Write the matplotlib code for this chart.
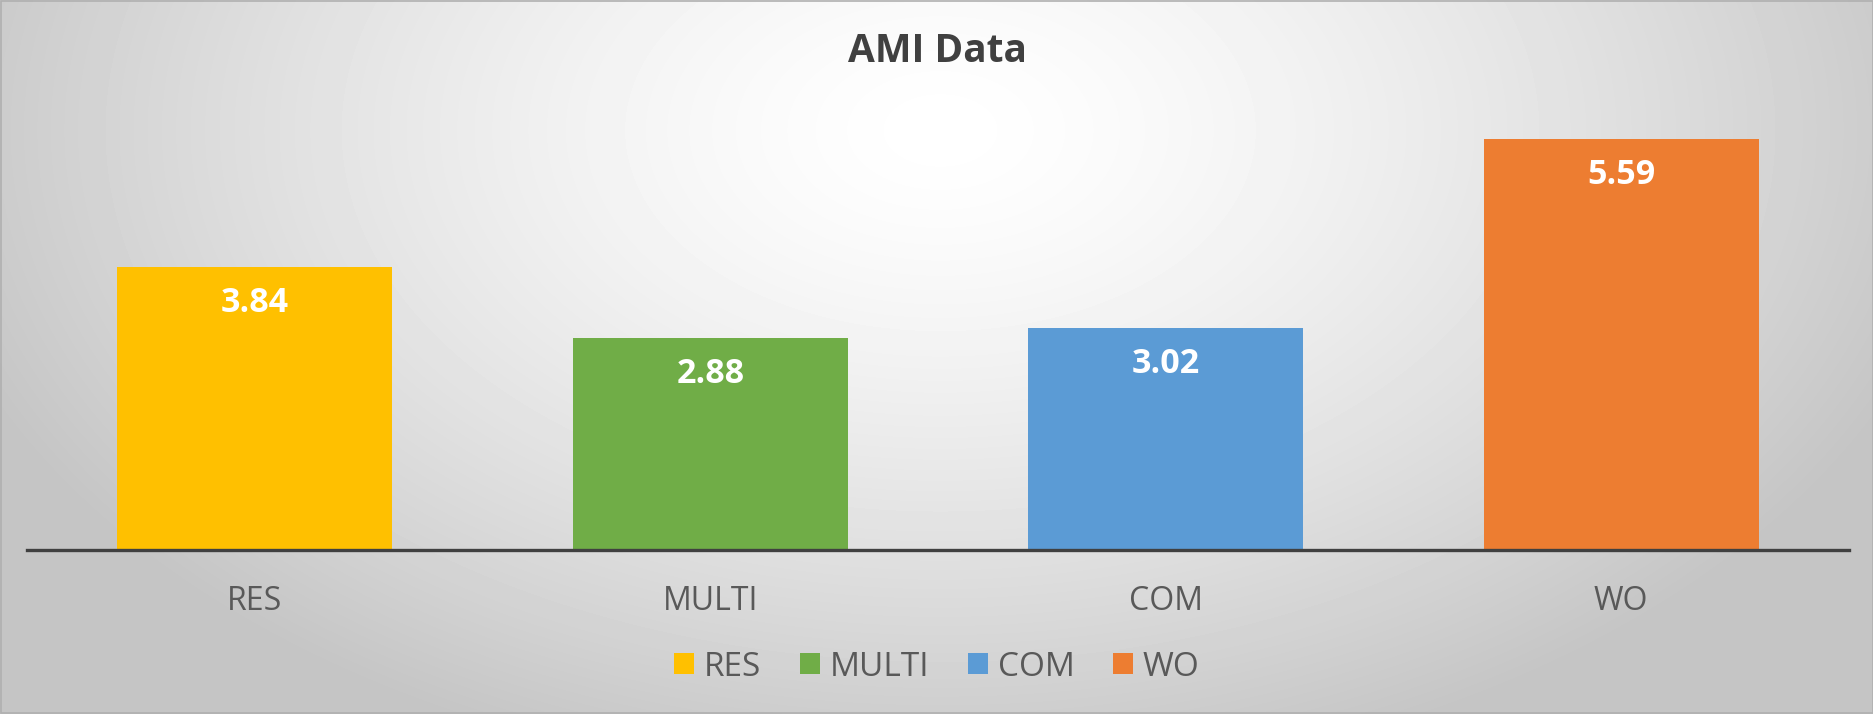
import numpy as np
import matplotlib.pyplot as plt
from matplotlib.patches import Patch

plt.rcParams['font.family'] = ['Open Sans', 'DejaVu Sans']

categories = ['RES', 'MULTI', 'COM', 'WO']
values = [3.84, 2.88, 3.02, 5.59]
colors = ['#FFC000', '#70AD47', '#5B9BD5', '#ED7D31']

fig = plt.figure(figsize=(18.74, 7.14), dpi=100)

# radial gradient background, light near top centre
bg = fig.add_axes([0, 0, 1, 1], zorder=-10)
yy, xx = np.mgrid[0:714, 0:1874]
r = np.sqrt(((xx - 940) / 1100.0) ** 2 + ((yy - 130) / 700.0) ** 2)
shade = 1.0 - 0.23 * np.clip(r / 0.95, 0, 1) ** 1.4
bg.imshow(shade, cmap='gray', vmin=0, vmax=1, aspect='auto', interpolation='bilinear')
bg.set_axis_off()
fig.patches.append(plt.Rectangle((0.0005, 0.001), 0.999, 0.997, transform=fig.transFigure,
                                 fill=False, edgecolor='#b0b0b0', linewidth=1.2))

ax = fig.add_axes([27 / 1874, 1 - 550 / 714, (1849 - 27) / 1874, 441.6 / 714])
ax.patch.set_alpha(0)
x = np.arange(len(categories))
bars = ax.bar(x, values, width=0.603, color=colors)
ax.set_xlim(-0.5, 3.5)
ax.set_ylim(0, 6)

for b, v in zip(bars, values):
    ax.annotate('{:.2f}'.format(v), (b.get_x() + b.get_width() / 2, v),
                xytext=(0, -26), textcoords='offset points', ha='center', va='center',
                color='white', fontsize=24.5, fontweight='bold')

for s in ['top', 'right', 'left']:
    ax.spines[s].set_visible(False)
ax.spines['bottom'].set_color('#404040')
ax.spines['bottom'].set_linewidth(2.4)
ax.set_yticks([])
ax.set_xticks(x)
ax.set_xticklabels(categories, fontsize=23, color='#595959')
ax.tick_params(axis='x', length=0, pad=25)

fig.text(0.5, 1 - 51 / 714, 'AMI Data', ha='center', va='center',
         fontsize=28, fontweight='bold', color='#404040')

handles = [Patch(facecolor=c, edgecolor='none') for c in colors]
fig.legend(handles, categories, loc='center', bbox_to_anchor=(0.5, 1 - 667 / 714), ncol=4,
           frameon=False, fontsize=24, labelcolor='#595959', handlelength=0.6,
           handleheight=0.6, handletextpad=0.3, columnspacing=1.15)

fig.savefig('out.png', dpi=100)
